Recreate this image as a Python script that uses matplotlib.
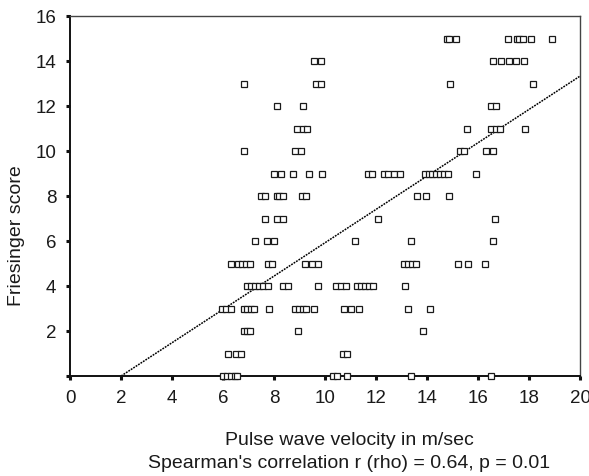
import numpy as np
import matplotlib
matplotlib.use('Agg')
import matplotlib.pyplot as plt

plt.rcParams['font.family'] = ['Liberation Sans', 'DejaVu Sans']

# Velocidade da onda de pulso (m/s) e escore de Friesinger, linha por linha
pwv = [
    14.78, 14.85, 15.15, 17.16, 17.53, 17.6, 17.74, 18.09, 18.91,            # 15
    9.57, 9.84, 16.6, 16.9, 17.2, 17.5, 17.8,                                 # 14
    6.82, 9.63, 9.85, 14.9, 18.17,                                            # 13
    8.1, 9.13, 16.5, 16.7,                                                    # 12
    8.9, 9.14, 9.3, 15.57, 16.5, 16.7, 16.85, 17.85,                          # 11
    6.82, 8.83, 9.05, 15.3, 15.45, 16.3, 16.6,                                # 10
    8.0, 8.28, 8.74, 9.36, 9.87, 11.7, 11.85, 12.3, 12.47, 12.7, 12.93,
    13.9, 14.06, 14.2, 14.35, 14.5, 14.67, 14.8, 15.9,                        # 9
    7.5, 7.65, 8.1, 8.2, 8.33, 9.1, 9.25, 13.6, 13.95, 14.85,                 # 8
    7.65, 8.1, 8.33, 12.08, 16.68,                                            # 7
    7.25, 7.73, 7.98, 11.17, 13.38, 16.6,                                     # 6
    6.3, 6.58, 6.73, 6.9, 7.06, 7.75, 7.92, 9.22, 9.47, 9.72,
    13.1, 13.25, 13.4, 13.55, 15.2, 15.6, 16.26,                              # 5
    6.92, 7.08, 7.25, 7.42, 7.58, 7.75, 8.33, 8.53, 9.73, 10.43, 10.63, 10.83,
    11.25, 11.4, 11.56, 11.72, 11.87, 13.14,                                  # 4
    5.95, 6.1, 6.3, 6.8, 6.95, 7.1, 7.2, 7.8, 8.82, 8.98, 9.14, 9.25, 9.55,
    10.75, 11.03, 11.33, 13.25, 14.1,                                         # 3
    6.8, 6.95, 7.05, 8.93, 13.85,                                             # 2
    6.2, 6.52, 6.7, 10.7, 10.85,                                              # 1
    6.0, 6.15, 6.3, 6.45, 6.55, 10.3, 10.45, 10.85, 13.38, 16.5,              # 0
]
linhas_escore = [15, 14, 13, 12, 11, 10, 9, 8, 7, 6, 5, 4, 3, 2, 1, 0]
pontos_por_linha = [9, 7, 5, 4, 8, 7, 19, 10, 5, 6, 17, 18, 18, 5, 5, 10]
escore = np.repeat(linhas_escore, pontos_por_linha)

# Reta de regressão
inclinacao = 0.741
intercepto = -1.48

x_ticks = np.arange(0, 21, 2)
y_ticks = np.arange(0, 17, 2)
y_tick_labels = [''] + [str(v) for v in y_ticks[1:]]

fig = plt.figure(figsize=(5.89, 4.76), dpi=100)
ax = fig.add_axes([0.119, 0.21, 0.866, 0.756])

eixo_x = np.linspace(0, 20, 200)
ax.plot(eixo_x, inclinacao * eixo_x + intercepto, color='black',
        linewidth=1.1, linestyle=(0, (1.2, 0.7)), zorder=2)

ax.plot(pwv, escore, linestyle='none', marker='s', markersize=4.6,
        markerfacecolor='white', markeredgecolor='#1a1a1a',
        markeredgewidth=0.9, clip_on=False, zorder=3)

ax.set_xlim(0, 20)
ax.set_ylim(0, 16)
ax.set_xticks(x_ticks)
ax.set_yticks(y_ticks)
ax.set_yticklabels(y_tick_labels)

for lado in ['left', 'bottom']:
    ax.spines[lado].set_linewidth(1.4)
    ax.spines[lado].set_color('#111111')
for lado in ['top', 'right']:
    ax.spines[lado].set_linewidth(1.0)
    ax.spines[lado].set_color('#444444')

ax.tick_params(direction='out', length=3, width=2.2, colors='#111111',
               labelsize=13.5, labelcolor='#1a1a1a')
ax.tick_params(axis='x', pad=7)
ax.tick_params(axis='y', pad=7)

ax.set_ylabel('Friesinger score', fontsize=14, color='#1a1a1a')
ax.yaxis.set_label_coords(-0.088, 0.39)
ax.set_xlabel("Pulse wave velocity in m/sec\nSpearman's correlation r (rho) = 0.64, p = 0.01",
              fontsize=14, color='#1a1a1a', linespacing=1.5)
ax.xaxis.set_label_coords(0.547, -0.155, transform=ax.transAxes)
ax.xaxis.label.set_va('top')

fig.savefig('out.png', dpi=100)
